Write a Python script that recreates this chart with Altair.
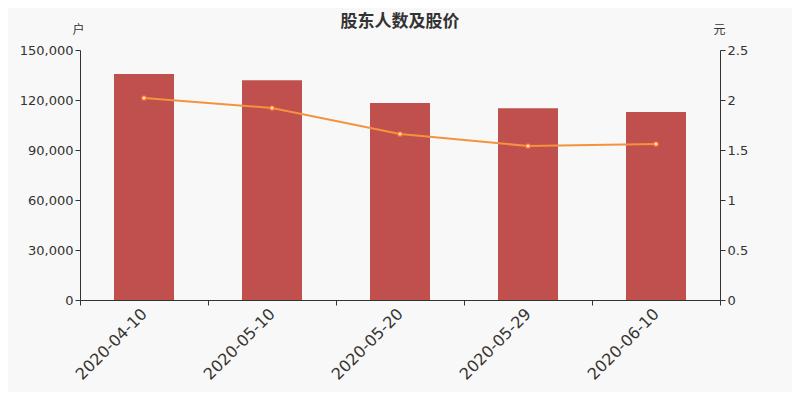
import altair as alt
import pandas as pd

dates = ["2020-04-10", "2020-05-10", "2020-05-20", "2020-05-29", "2020-06-10"]
holders = [135600, 131800, 118200, 115000, 112800]
prices = [2.02, 1.92, 1.66, 1.54, 1.56]

df = pd.DataFrame({"date": dates, "holders": holders, "price": prices})

x = alt.X("date:N", sort=dates, title=None,
          scale=alt.Scale(paddingInner=0, paddingOuter=0),
          axis=alt.Axis(labelAngle=315, labelAlign="right", labelBaseline="middle",
                        labelFontSize=16, labelColor="#333333", labelPadding=6,
                        tickBand="extent", tickSize=5, tickColor="#333333",
                        domainColor="#333333", labelFont="DejaVu Sans", grid=False))

bars = alt.Chart(df).mark_bar(color="#c0504d", size=60).encode(
    x=x,
    y=alt.Y("holders:Q", scale=alt.Scale(domain=[0, 150000], nice=False),
            axis=alt.Axis(values=[0, 30000, 60000, 90000, 120000, 150000], format=",.0f",
                          title="户", titleAngle=0, titleX=-2, titleY=-21,
                          titleAlign="center", titleBaseline="middle",
                          titleFontSize=12, titleFontWeight="normal", titleColor="#333333",
                          labelFontSize=13, labelColor="#333333", labelFont="DejaVu Sans",
                          tickSize=5, tickColor="#333333", domainColor="#333333",
                          grid=False, titleFont="Noto Sans CJK SC")),
)

line = alt.Chart(df).mark_line(
    color="#f5923e", strokeWidth=2,
    point=alt.OverlayMarkDef(filled=True, fill="#ffffff", stroke="#f5923e", strokeWidth=1.5, size=14),
).encode(
    x=x,
    y=alt.Y("price:Q", scale=alt.Scale(domain=[0, 2.5], nice=False),
            axis=alt.Axis(orient="right", values=[0, 0.5, 1, 1.5, 2, 2.5], format="~g",
                          title="元", titleAngle=0, titleX=-1, titleY=-21,
                          titleAlign="center", titleBaseline="middle",
                          titleFontSize=12, titleFontWeight="normal", titleColor="#333333",
                          labelFontSize=13, labelColor="#333333", labelFont="DejaVu Sans",
                          tickSize=5, tickColor="#333333", domainColor="#333333",
                          grid=False, titleFont="Noto Sans CJK SC")),
)

chart = alt.layer(bars, line).resolve_scale(y="independent").properties(
    width=640, height=250,
    autosize=alt.AutoSizeParams(type="none"),
    padding={"left": 72, "top": 42, "right": 72, "bottom": 92},
    background="#f8f8f8",
    title=alt.TitleParams("股东人数及股价", font="Noto Sans CJK SC", fontSize=17,
                          fontWeight="bold", color="#333333", anchor="middle", offset=-8),
).configure_view(stroke=None)

chart.save("out.html", embed_options={"renderer": "svg", "actions": False})
